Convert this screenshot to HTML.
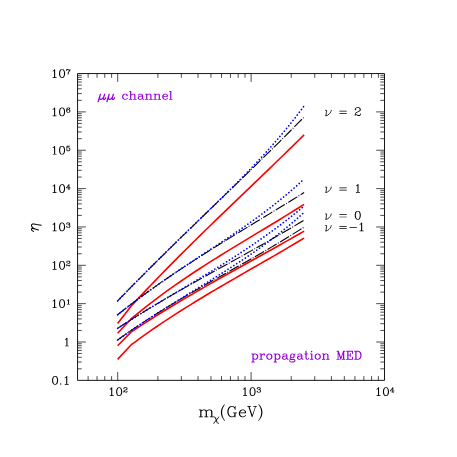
<!DOCTYPE html>
<html><head><meta charset="utf-8"><title>plot</title>
<style>html,body{margin:0;padding:0;background:#fff;}body{width:457px;height:457px;overflow:hidden;}svg{display:block;}body{font-family:"Liberation Serif",serif;}</style>
</head><body>
<svg width="457" height="457" viewBox="0 0 457 457">
<rect x="0" y="0" width="457" height="457" fill="#fff"/>
<path d="M117.60 323.40 L131.00 306.22 L135.95 300.90 L140.89 295.63 L145.84 290.40 L150.78 285.22 L155.73 280.08 L160.67 274.98 L165.62 269.92 L170.57 264.89 L175.51 259.90 L180.46 254.93 L185.40 250.00 L190.35 245.10 L195.29 240.22 L200.24 235.36 L205.19 230.52 L210.13 225.71 L215.08 220.90 L220.02 216.12 L224.97 211.34 L229.91 206.58 L234.86 201.82 L239.81 197.07 L244.75 192.32 L249.70 187.57 L254.64 182.83 L259.59 178.08 L264.53 173.32 L269.48 168.56 L274.43 163.79 L279.37 159.00 L284.32 154.21 L289.26 149.39 L294.21 144.56 L299.15 139.71 L304.10 134.84" stroke="#ff0000" stroke-width="1.6" fill="none" stroke-linejoin="round"/>
<path d="M117.60 333.20 L131.00 318.98 L135.95 314.87 L140.89 310.85 L145.84 306.92 L150.78 303.06 L155.73 299.29 L160.67 295.60 L165.62 291.97 L170.57 288.41 L175.51 284.92 L180.46 281.48 L185.40 278.10 L190.35 274.78 L195.29 271.50 L200.24 268.27 L205.19 265.08 L210.13 261.93 L215.08 258.81 L220.02 255.72 L224.97 252.66 L229.91 249.63 L234.86 246.61 L239.81 243.61 L244.75 240.62 L249.70 237.63 L254.64 234.66 L259.59 231.68 L264.53 228.70 L269.48 225.71 L274.43 222.72 L279.37 219.71 L284.32 216.68 L289.26 213.63 L294.21 210.55 L299.15 207.45 L304.10 204.31" stroke="#ff0000" stroke-width="1.6" fill="none" stroke-linejoin="round"/>
<path d="M117.60 345.70 L131.00 332.12 L135.95 328.83 L140.89 325.58 L145.84 322.38 L150.78 319.22 L155.73 316.10 L160.67 313.02 L165.62 309.97 L170.57 306.96 L175.51 303.98 L180.46 301.03 L185.40 298.10 L190.35 295.21 L195.29 292.33 L200.24 289.48 L205.19 286.65 L210.13 283.84 L215.08 281.04 L220.02 278.26 L224.97 275.49 L229.91 272.72 L234.86 269.97 L239.81 267.22 L244.75 264.48 L249.70 261.73 L254.64 258.99 L259.59 256.25 L264.53 253.50 L269.48 250.74 L274.43 247.98 L279.37 245.20 L284.32 242.42 L289.26 239.62 L294.21 236.80 L299.15 233.97 L304.10 231.11" stroke="#ff0000" stroke-width="1.6" fill="none" stroke-linejoin="round"/>
<path d="M117.60 359.40 L131.00 344.93 L135.95 341.27 L140.89 337.68 L145.84 334.15 L150.78 330.69 L155.73 327.28 L160.67 323.92 L165.62 320.62 L170.57 317.37 L175.51 314.17 L180.46 311.01 L185.40 307.89 L190.35 304.81 L195.29 301.76 L200.24 298.75 L205.19 295.77 L210.13 292.81 L215.08 289.88 L220.02 286.97 L224.97 284.08 L229.91 281.20 L234.86 278.34 L239.81 275.49 L244.75 272.65 L249.70 269.81 L254.64 266.97 L259.59 264.13 L264.53 261.29 L269.48 258.44 L274.43 255.58 L279.37 252.71 L284.32 249.82 L289.26 246.92 L294.21 243.99 L299.15 241.04 L304.10 238.07" stroke="#ff0000" stroke-width="1.6" fill="none" stroke-linejoin="round"/>
<path d="M117.60 300.90 L122.38 295.98 L127.16 291.08 L131.95 286.21 L136.73 281.37 L141.51 276.56 L146.29 271.76 L151.07 266.99 L155.86 262.24 L160.64 257.51 L165.42 252.79 L170.20 248.09 L174.98 243.41 L179.77 238.73 L184.55 234.07 L189.33 229.42 L194.11 224.78 L198.89 220.15 L203.68 215.52 L208.46 210.89 L213.24 206.27 L218.02 201.65 L222.81 197.03 L227.59 192.41 L232.37 187.78 L237.15 183.15 L241.93 178.52 L246.72 173.87 L251.50 169.22 L256.28 164.56 L261.06 159.88 L265.84 155.20 L270.63 150.49 L275.41 145.77 L280.19 141.04 L284.97 136.28 L289.75 131.50 L294.54 126.70 L299.32 121.88 L304.10 117.03" stroke="#000" stroke-width="1.1" fill="none" stroke-dasharray="10.6 1.5 0.9 1.6"/>
<path d="M117.60 314.72 L122.38 310.97 L127.16 307.27 L131.95 303.63 L136.73 300.03 L141.51 296.50 L146.29 293.01 L151.07 289.56 L155.86 286.17 L160.64 282.82 L165.42 279.50 L170.20 276.23 L174.98 273.00 L179.77 269.80 L184.55 266.63 L189.33 263.50 L194.11 260.39 L198.89 257.32 L203.68 254.27 L208.46 251.24 L213.24 248.23 L218.02 245.25 L222.81 242.28 L227.59 239.32 L232.37 236.39 L237.15 233.46 L241.93 230.54 L246.72 227.63 L251.50 224.72 L256.28 221.82 L261.06 218.92 L265.84 216.02 L270.63 213.12 L275.41 210.21 L280.19 207.30 L284.97 204.38 L289.75 201.45 L294.54 198.50 L299.32 195.55 L304.10 192.57" stroke="#000" stroke-width="1.1" fill="none" stroke-dasharray="10.6 1.5 0.9 1.6"/>
<path d="M117.60 328.34 L122.38 325.23 L127.16 322.16 L131.95 319.13 L136.73 316.14 L141.51 313.19 L146.29 310.27 L151.07 307.38 L155.86 304.52 L160.64 301.69 L165.42 298.89 L170.20 296.11 L174.98 293.35 L179.77 290.61 L184.55 287.89 L189.33 285.19 L194.11 282.50 L198.89 279.82 L203.68 277.16 L208.46 274.50 L213.24 271.85 L218.02 269.20 L222.81 266.56 L227.59 263.92 L232.37 261.27 L237.15 258.62 L241.93 255.97 L246.72 253.31 L251.50 250.64 L256.28 247.96 L261.06 245.26 L265.84 242.55 L270.63 239.83 L275.41 237.08 L280.19 234.31 L284.97 231.52 L289.75 228.70 L294.54 225.86 L299.32 222.99 L304.10 220.09" stroke="#000" stroke-width="1.1" fill="none" stroke-dasharray="10.6 1.5 0.9 1.6"/>
<path d="M117.60 339.99 L122.38 336.57 L127.16 333.21 L131.95 329.91 L136.73 326.67 L141.51 323.49 L146.29 320.35 L151.07 317.27 L155.86 314.23 L160.64 311.24 L165.42 308.28 L170.20 305.37 L174.98 302.49 L179.77 299.64 L184.55 296.82 L189.33 294.02 L194.11 291.25 L198.89 288.50 L203.68 285.76 L208.46 283.04 L213.24 280.33 L218.02 277.63 L222.81 274.93 L227.59 272.24 L232.37 269.54 L237.15 266.85 L241.93 264.14 L246.72 261.43 L251.50 258.70 L256.28 255.96 L261.06 253.20 L265.84 250.42 L270.63 247.61 L275.41 244.78 L280.19 241.92 L284.97 239.02 L289.75 236.09 L294.54 233.12 L299.32 230.11 L304.10 227.06" stroke="#000" stroke-width="1.1" fill="none" stroke-dasharray="10.6 1.5 0.9 1.6"/>
<path d="M117.60 301.00 L122.38 296.05 L127.16 291.13 L131.95 286.23 L136.73 281.35 L141.51 276.50 L146.29 271.68 L151.07 266.89 L155.86 262.12 L160.64 257.37 L165.42 252.65 L170.20 247.95 L174.98 243.27 L179.77 238.61 L184.55 233.97 L189.33 229.33 L194.11 224.71 L198.89 220.08 L203.68 215.46 L208.46 210.83 L213.24 206.19 L218.02 201.53 L222.81 196.85 L227.59 192.14 L232.37 187.40 L237.15 182.61 L241.93 177.77 L246.72 172.87 L251.50 167.90 L256.28 162.85 L261.06 157.72 L265.84 152.49 L270.63 147.16 L275.41 141.70 L280.19 136.12 L284.97 130.40 L289.75 124.53 L294.54 118.50 L299.32 112.29 L304.10 105.89" stroke="#0000ff" stroke-width="1.7" fill="none" stroke-linecap="round" stroke-dasharray="0.1 3.35"/>
<path d="M117.60 314.79 L122.38 311.00 L127.16 307.27 L131.95 303.61 L136.73 300.00 L141.51 296.45 L146.29 292.96 L151.07 289.51 L155.86 286.11 L160.64 282.75 L165.42 279.44 L170.20 276.16 L174.98 272.91 L179.77 269.69 L184.55 266.49 L189.33 263.32 L194.11 260.16 L198.89 257.01 L203.68 253.87 L208.46 250.73 L213.24 247.59 L218.02 244.44 L222.81 241.27 L227.59 238.08 L232.37 234.86 L237.15 231.62 L241.93 228.33 L246.72 225.00 L251.50 221.62 L256.28 218.17 L261.06 214.67 L265.84 211.09 L270.63 207.43 L275.41 203.69 L280.19 199.85 L284.97 195.90 L289.75 191.85 L294.54 187.68 L299.32 183.38 L304.10 178.95" stroke="#0000ff" stroke-width="1.7" fill="none" stroke-linecap="round" stroke-dasharray="0.1 3.35"/>
<path d="M117.60 328.34 L122.38 325.25 L127.16 322.20 L131.95 319.19 L136.73 316.21 L141.51 313.25 L146.29 310.32 L151.07 307.42 L155.86 304.53 L160.64 301.66 L165.42 298.80 L170.20 295.95 L174.98 293.10 L179.77 290.26 L184.55 287.41 L189.33 284.56 L194.11 281.70 L198.89 278.83 L203.68 275.95 L208.46 273.05 L213.24 270.13 L218.02 267.18 L222.81 264.20 L227.59 261.19 L232.37 258.15 L237.15 255.07 L241.93 251.95 L246.72 248.79 L251.50 245.57 L256.28 242.31 L261.06 238.98 L265.84 235.60 L270.63 232.16 L275.41 228.66 L280.19 225.08 L284.97 221.43 L289.75 217.71 L294.54 213.91 L299.32 210.03 L304.10 206.06" stroke="#0000ff" stroke-width="1.7" fill="none" stroke-linecap="round" stroke-dasharray="0.1 3.35"/>
<path d="M117.60 339.98 L122.38 336.60 L127.16 333.27 L131.95 329.99 L136.73 326.75 L141.51 323.56 L146.29 320.41 L151.07 317.30 L155.86 314.22 L160.64 311.17 L165.42 308.15 L170.20 305.16 L174.98 302.18 L179.77 299.22 L184.55 296.28 L189.33 293.34 L194.11 290.40 L198.89 287.47 L203.68 284.53 L208.46 281.58 L213.24 278.62 L218.02 275.64 L222.81 272.63 L227.59 269.60 L232.37 266.53 L237.15 263.42 L241.93 260.27 L246.72 257.06 L251.50 253.80 L256.28 250.47 L261.06 247.08 L265.84 243.61 L270.63 240.06 L275.41 236.42 L280.19 232.68 L284.97 228.85 L289.75 224.91 L294.54 220.85 L299.32 216.67 L304.10 212.36" stroke="#0000ff" stroke-width="1.7" fill="none" stroke-linecap="round" stroke-dasharray="0.1 3.35"/>
<g stroke="#111" fill="none">
<rect x="77.55" y="73.55" width="306.95" height="306.80" stroke-width="0.98" stroke-linejoin="round"/>
<path d="M88.11 380.35v-4.20M88.11 73.55v4.20M97.04 380.35v-4.20M97.04 73.55v4.20M104.78 380.35v-4.20M104.78 73.55v4.20M111.60 380.35v-4.20M111.60 73.55v4.20M117.71 380.35v-8.30M117.71 73.55v8.30M157.86 380.35v-4.20M157.86 73.55v4.20M181.35 380.35v-4.20M181.35 73.55v4.20M198.02 380.35v-4.20M198.02 73.55v4.20M210.95 380.35v-4.20M210.95 73.55v4.20M221.51 380.35v-4.20M221.51 73.55v4.20M230.44 380.35v-4.20M230.44 73.55v4.20M238.18 380.35v-4.20M238.18 73.55v4.20M245.00 380.35v-4.20M245.00 73.55v4.20M251.10 380.35v-8.30M251.10 73.55v8.30M291.26 380.35v-4.20M291.26 73.55v4.20M314.75 380.35v-4.20M314.75 73.55v4.20M331.42 380.35v-4.20M331.42 73.55v4.20M344.34 380.35v-4.20M344.34 73.55v4.20M354.91 380.35v-4.20M354.91 73.55v4.20M363.84 380.35v-4.20M363.84 73.55v4.20M371.57 380.35v-4.20M371.57 73.55v4.20M378.40 380.35v-4.20M378.40 73.55v4.20M77.55 368.81h4.20M384.50 368.81h-4.20M77.55 362.05h4.20M384.50 362.05h-4.20M77.55 357.26h4.20M384.50 357.26h-4.20M77.55 353.54h4.20M384.50 353.54h-4.20M77.55 350.51h4.20M384.50 350.51h-4.20M77.55 347.94h4.20M384.50 347.94h-4.20M77.55 345.72h4.20M384.50 345.72h-4.20M77.55 343.75h4.20M384.50 343.75h-4.20M77.55 342.00h8.30M384.50 342.00h-8.30M77.55 330.46h4.20M384.50 330.46h-4.20M77.55 323.70h4.20M384.50 323.70h-4.20M77.55 318.91h4.20M384.50 318.91h-4.20M77.55 315.19h4.20M384.50 315.19h-4.20M77.55 312.16h4.20M384.50 312.16h-4.20M77.55 309.59h4.20M384.50 309.59h-4.20M77.55 307.37h4.20M384.50 307.37h-4.20M77.55 305.40h4.20M384.50 305.40h-4.20M77.55 303.65h8.30M384.50 303.65h-8.30M77.55 292.11h4.20M384.50 292.11h-4.20M77.55 285.35h4.20M384.50 285.35h-4.20M77.55 280.56h4.20M384.50 280.56h-4.20M77.55 276.84h4.20M384.50 276.84h-4.20M77.55 273.81h4.20M384.50 273.81h-4.20M77.55 271.24h4.20M384.50 271.24h-4.20M77.55 269.02h4.20M384.50 269.02h-4.20M77.55 267.05h4.20M384.50 267.05h-4.20M77.55 265.30h8.30M384.50 265.30h-8.30M77.55 253.76h4.20M384.50 253.76h-4.20M77.55 247.00h4.20M384.50 247.00h-4.20M77.55 242.21h4.20M384.50 242.21h-4.20M77.55 238.49h4.20M384.50 238.49h-4.20M77.55 235.46h4.20M384.50 235.46h-4.20M77.55 232.89h4.20M384.50 232.89h-4.20M77.55 230.67h4.20M384.50 230.67h-4.20M77.55 228.70h4.20M384.50 228.70h-4.20M77.55 226.95h8.30M384.50 226.95h-8.30M77.55 215.41h4.20M384.50 215.41h-4.20M77.55 208.65h4.20M384.50 208.65h-4.20M77.55 203.86h4.20M384.50 203.86h-4.20M77.55 200.14h4.20M384.50 200.14h-4.20M77.55 197.11h4.20M384.50 197.11h-4.20M77.55 194.54h4.20M384.50 194.54h-4.20M77.55 192.32h4.20M384.50 192.32h-4.20M77.55 190.35h4.20M384.50 190.35h-4.20M77.55 188.60h8.30M384.50 188.60h-8.30M77.55 177.06h4.20M384.50 177.06h-4.20M77.55 170.30h4.20M384.50 170.30h-4.20M77.55 165.51h4.20M384.50 165.51h-4.20M77.55 161.79h4.20M384.50 161.79h-4.20M77.55 158.76h4.20M384.50 158.76h-4.20M77.55 156.19h4.20M384.50 156.19h-4.20M77.55 153.97h4.20M384.50 153.97h-4.20M77.55 152.00h4.20M384.50 152.00h-4.20M77.55 150.25h8.30M384.50 150.25h-8.30M77.55 138.71h4.20M384.50 138.71h-4.20M77.55 131.95h4.20M384.50 131.95h-4.20M77.55 127.16h4.20M384.50 127.16h-4.20M77.55 123.44h4.20M384.50 123.44h-4.20M77.55 120.41h4.20M384.50 120.41h-4.20M77.55 117.84h4.20M384.50 117.84h-4.20M77.55 115.62h4.20M384.50 115.62h-4.20M77.55 113.65h4.20M384.50 113.65h-4.20M77.55 111.90h8.30M384.50 111.90h-8.30M77.55 100.36h4.20M384.50 100.36h-4.20M77.55 93.60h4.20M384.50 93.60h-4.20M77.55 88.81h4.20M384.50 88.81h-4.20M77.55 85.09h4.20M384.50 85.09h-4.20M77.55 82.06h4.20M384.50 82.06h-4.20M77.55 79.49h4.20M384.50 79.49h-4.20M77.55 77.27h4.20M384.50 77.27h-4.20M77.55 75.30h4.20M384.50 75.30h-4.20" stroke-width="0.75"/>
</g>
<path transform="translate(50.60 307.65) scale(0.382)" fill="#000" d="M11.2 -21.9L10.5 -21.8L7.4 -18.7L5.7 -17.9L5.1 -17.2L5.2 -16.5L5.8 -16.1L6.2 -16.1L8.3 -17.1L9.1 -17.8L9.1 -0.9L5.8 -0.9L5.5 -0.8L5.1 -0.2L5.1 0.2L5.8 0.9L15.2 0.9L15.9 0.2L15.8 -0.5L15.2 -0.9L11.9 -0.9L11.9 -21.2ZM29 -21.9L25.5 -20.8L23.2 -17.5L22.1 -12.3L22.1 -8.7L23.1 -3.8L25.2 -0.6L25.8 -0.1L28.7 0.9L31.3 0.9L34.5 -0.2L36.9 -3.8L37.9 -8.7L37.9 -12.3L36.9 -17.2L34.8 -20.4L34.2 -20.9L31.3 -21.9ZM29.2 -20.1L30.9 -20.1L32.4 -19.3L33.3 -18.4L34.2 -16.6L35.1 -11.9L35.1 -9.1L34.1 -4.2L33.3 -2.6L32.4 -1.7L30.8 -0.9L29.1 -0.9L27.6 -1.7L26.7 -2.6L25.8 -4.4L24.9 -9.1L24.9 -11.9L25.9 -16.8L26.7 -18.4L27.6 -19.3Z"/>
<path transform="translate(65.80 304.25) scale(0.25 0.225)" fill="#000" d="M11.3 -22.4L10.7 -22.4L10 -22L7.2 -19.2L5.2 -18.2L4.8 -17.8L4.6 -17.3L4.6 -16.7L4.8 -16.2L5.2 -15.8L5.7 -15.6L6.7 -15.8L8.4 -16.7L8.6 -16.6L8.6 -1.4L5.7 -1.4L5.2 -1.2L4.7 -0.5L4.6 0.3L4.8 0.8L5.2 1.2L5.7 1.4L15.3 1.4L15.8 1.2L16.2 0.8L16.4 0.3L16.4 -0.3L16.2 -0.8L15.5 -1.3L12.4 -1.4L12.4 -21.3L12.2 -21.8L11.8 -22.2Z"/>
<path transform="translate(50.60 269.30) scale(0.382)" fill="#000" d="M11.2 -21.9L10.5 -21.8L7.4 -18.7L5.7 -17.9L5.1 -17.2L5.2 -16.5L5.8 -16.1L6.2 -16.1L8.3 -17.1L9.1 -17.8L9.1 -0.9L5.8 -0.9L5.5 -0.8L5.1 -0.2L5.1 0.2L5.8 0.9L15.2 0.9L15.9 0.2L15.8 -0.5L15.2 -0.9L11.9 -0.9L11.9 -21.2ZM29 -21.9L25.5 -20.8L23.2 -17.5L22.1 -12.3L22.1 -8.7L23.1 -3.8L25.2 -0.6L25.8 -0.1L28.7 0.9L31.3 0.9L34.5 -0.2L36.9 -3.8L37.9 -8.7L37.9 -12.3L36.9 -17.2L34.8 -20.4L34.2 -20.9L31.3 -21.9ZM29.2 -20.1L30.9 -20.1L32.4 -19.3L33.3 -18.4L34.2 -16.6L35.1 -11.9L35.1 -9.1L34.1 -4.2L33.3 -2.6L32.4 -1.7L30.8 -0.9L29.1 -0.9L27.6 -1.7L26.7 -2.6L25.8 -4.4L24.9 -9.1L24.9 -11.9L25.9 -16.8L26.7 -18.4L27.6 -19.3Z"/>
<path transform="translate(65.80 265.90) scale(0.25 0.225)" fill="#000" d="M4.6 -21.4L4 -21L2.8 -19.8L1.6 -17.3L1.7 -15.5L2 -15L3.2 -13.8L3.7 -13.6L4.3 -13.6L4.8 -13.8L6 -15L6.3 -15.5L6.3 -16.5L6 -17L5.1 -17.8L5.2 -18.2L5.9 -18.9L8.2 -19.6L11.7 -19.6L13.2 -18.8L13.9 -18.1L14.6 -16.7L14.6 -15.3L13.8 -13.8L11.1 -12.1L5.4 -9.3L3 -7L2.6 -6.4L1.6 -3.3L1.7 0.5L2.5 1.3L3.3 1.4L3.8 1.2L4.2 0.8L4.4 0.3L4.4 -1.5L4.6 -1.6L5.6 -1.6L10.7 1.4L15.5 1.3L16 1L17.2 -0.2L18.4 -2.6L18.4 -5.3L18.2 -5.8L17.8 -6.2L17.3 -6.4L16.7 -6.4L16.2 -6.2L15.8 -5.8L15.6 -5.3L15.6 -3.5L15.1 -3.1L13.7 -2.4L11.2 -2.4L6.6 -4.3L5 -4.4L4.9 -4.5L5.2 -5.3L6.9 -6.9L8.9 -7.9L13.4 -9.6L16.7 -11.8L17.2 -12.2L18.4 -14.7L18.4 -17.3L17.2 -19.8L16 -21L15.4 -21.4L12.4 -22.4L7.7 -22.4Z"/>
<path transform="translate(50.60 230.95) scale(0.382)" fill="#000" d="M11.2 -21.9L10.5 -21.8L7.4 -18.7L5.7 -17.9L5.1 -17.2L5.2 -16.5L5.8 -16.1L6.2 -16.1L8.3 -17.1L9.1 -17.8L9.1 -0.9L5.8 -0.9L5.5 -0.8L5.1 -0.2L5.1 0.2L5.8 0.9L15.2 0.9L15.9 0.2L15.8 -0.5L15.2 -0.9L11.9 -0.9L11.9 -21.2ZM29 -21.9L25.5 -20.8L23.2 -17.5L22.1 -12.3L22.1 -8.7L23.1 -3.8L25.2 -0.6L25.8 -0.1L28.7 0.9L31.3 0.9L34.5 -0.2L36.9 -3.8L37.9 -8.7L37.9 -12.3L36.9 -17.2L34.8 -20.4L34.2 -20.9L31.3 -21.9ZM29.2 -20.1L30.9 -20.1L32.4 -19.3L33.3 -18.4L34.2 -16.6L35.1 -11.9L35.1 -9.1L34.1 -4.2L33.3 -2.6L32.4 -1.7L30.8 -0.9L29.1 -0.9L27.6 -1.7L26.7 -2.6L25.8 -4.4L24.9 -9.1L24.9 -11.9L25.9 -16.8L26.7 -18.4L27.6 -19.3Z"/>
<path transform="translate(65.80 227.55) scale(0.25 0.225)" fill="#000" d="M7.7 -22.4L4.2 -21.2L3 -20L1.6 -17.3L1.7 -15.5L2 -15L3.2 -13.8L3.7 -13.6L4.3 -13.6L5 -14L6 -15L6.4 -15.7L6.4 -16.3L6.2 -16.8L5.1 -17.9L5.7 -18.8L8.2 -19.6L11.7 -19.6L12.8 -19.1L13.6 -17.7L13.6 -15.3L13.1 -14.2L11.7 -13.4L8.5 -13.3L7.8 -12.8L7.6 -12.3L7.6 -11.7L7.8 -11.2L8.5 -10.7L11.7 -10.6L13.1 -9.9L13.8 -9.3L14.6 -6.8L14.6 -4.3L13.8 -2.8L13.1 -2.1L11.7 -1.4L8 -1.4L5.9 -2.1L5.2 -2.8L5.1 -3.2L6 -4L6.3 -4.5L6.4 -5.3L6 -6L5 -7L4.3 -7.4L3.7 -7.4L3 -7L1.8 -5.8L1.6 -5.3L1.6 -3.7L2.8 -1.2L4 0L4.6 0.4L7.7 1.4L12.4 1.4L15.4 0.4L16 0L17.2 -1.2L18.4 -3.7L18.4 -7.3L17.2 -9.8L15.4 -11.6L16.2 -12.2L17.4 -14.7L17.4 -18.3L16.2 -20.8L15.4 -21.4L12.4 -22.4Z"/>
<path transform="translate(50.60 192.60) scale(0.382)" fill="#000" d="M11.2 -21.9L10.5 -21.8L7.4 -18.7L5.7 -17.9L5.1 -17.2L5.2 -16.5L5.8 -16.1L6.2 -16.1L8.3 -17.1L9.1 -17.8L9.1 -0.9L5.8 -0.9L5.5 -0.8L5.1 -0.2L5.1 0.2L5.8 0.9L15.2 0.9L15.9 0.2L15.8 -0.5L15.2 -0.9L11.9 -0.9L11.9 -21.2ZM29 -21.9L25.5 -20.8L23.2 -17.5L22.1 -12.3L22.1 -8.7L23.1 -3.8L25.2 -0.6L25.8 -0.1L28.7 0.9L31.3 0.9L34.5 -0.2L36.9 -3.8L37.9 -8.7L37.9 -12.3L36.9 -17.2L34.8 -20.4L34.2 -20.9L31.3 -21.9ZM29.2 -20.1L30.9 -20.1L32.4 -19.3L33.3 -18.4L34.2 -16.6L35.1 -11.9L35.1 -9.1L34.1 -4.2L33.3 -2.6L32.4 -1.7L30.8 -0.9L29.1 -0.9L27.6 -1.7L26.7 -2.6L25.8 -4.4L24.9 -9.1L24.9 -11.9L25.9 -16.8L26.7 -18.4L27.6 -19.3Z"/>
<path transform="translate(65.80 189.20) scale(0.25 0.225)" fill="#000" d="M13.4 -22.4L12.6 -22.4L11.9 -21.9L0.9 -6.9L0.6 -6.3L0.6 -5.7L0.8 -5.2L1.2 -4.8L1.7 -4.6L10.6 -4.6L10.6 -1.4L8.5 -1.3L7.8 -0.8L7.6 -0.3L7.6 0.3L7.8 0.8L8.2 1.2L8.7 1.4L16.3 1.4L16.8 1.2L17.2 0.8L17.4 0.3L17.4 -0.3L17.2 -0.8L16.8 -1.2L16.3 -1.4L14.4 -1.4L14.4 -4.6L18.3 -4.6L18.8 -4.8L19.2 -5.2L19.4 -5.7L19.4 -6.3L19.2 -6.8L18.5 -7.3L14.4 -7.4L14.4 -21.4L14.1 -21.9ZM10.6 -15.3L10.6 -7.4L4.9 -7.4L4.8 -7.5Z"/>
<path transform="translate(50.60 154.25) scale(0.382)" fill="#000" d="M11.2 -21.9L10.5 -21.8L7.4 -18.7L5.7 -17.9L5.1 -17.2L5.2 -16.5L5.8 -16.1L6.2 -16.1L8.3 -17.1L9.1 -17.8L9.1 -0.9L5.8 -0.9L5.5 -0.8L5.1 -0.2L5.1 0.2L5.8 0.9L15.2 0.9L15.9 0.2L15.8 -0.5L15.2 -0.9L11.9 -0.9L11.9 -21.2ZM29 -21.9L25.5 -20.8L23.2 -17.5L22.1 -12.3L22.1 -8.7L23.1 -3.8L25.2 -0.6L25.8 -0.1L28.7 0.9L31.3 0.9L34.5 -0.2L36.9 -3.8L37.9 -8.7L37.9 -12.3L36.9 -17.2L34.8 -20.4L34.2 -20.9L31.3 -21.9ZM29.2 -20.1L30.9 -20.1L32.4 -19.3L33.3 -18.4L34.2 -16.6L35.1 -11.9L35.1 -9.1L34.1 -4.2L33.3 -2.6L32.4 -1.7L30.8 -0.9L29.1 -0.9L27.6 -1.7L26.7 -2.6L25.8 -4.4L24.9 -9.1L24.9 -11.9L25.9 -16.8L26.7 -18.4L27.6 -19.3Z"/>
<path transform="translate(65.80 150.85) scale(0.25 0.225)" fill="#000" d="M4.6 -22.4L4.1 -22.1L3.6 -21.4L1.6 -11.4L1.6 -10.6L1.8 -10.2L2.6 -9.6L3.4 -9.6L3.9 -9.9L5.9 -11.9L8.2 -12.6L10.7 -12.6L12.2 -11.8L13.8 -10.3L14.6 -7.8L14.6 -6.2L13.8 -3.7L12.2 -2.2L10.7 -1.4L8.2 -1.4L5.7 -2.2L5.1 -3.1L6.2 -4.2L6.4 -4.7L6.4 -5.3L6 -6L5 -7L4.3 -7.4L3.7 -7.4L3.2 -7.2L1.8 -5.8L1.6 -5.3L1.6 -3.7L2.8 -1.2L4 0L4.6 0.4L7.4 1.3L11.4 1.4L14.4 0.4L15 0L17.2 -2.2L18.4 -5.7L18.4 -8.3L17.2 -11.8L14.8 -14.2L11.4 -15.4L7.7 -15.4L5.2 -14.5L5.1 -14.7L6 -18.6L10.4 -18.6L15.4 -19.6L16.2 -20.2L16.4 -20.6L16.4 -21.4L16.1 -21.9L15.4 -22.4Z"/>
<path transform="translate(50.60 115.90) scale(0.382)" fill="#000" d="M11.2 -21.9L10.5 -21.8L7.4 -18.7L5.7 -17.9L5.1 -17.2L5.2 -16.5L5.8 -16.1L6.2 -16.1L8.3 -17.1L9.1 -17.8L9.1 -0.9L5.8 -0.9L5.5 -0.8L5.1 -0.2L5.1 0.2L5.8 0.9L15.2 0.9L15.9 0.2L15.8 -0.5L15.2 -0.9L11.9 -0.9L11.9 -21.2ZM29 -21.9L25.5 -20.8L23.2 -17.5L22.1 -12.3L22.1 -8.7L23.1 -3.8L25.2 -0.6L25.8 -0.1L28.7 0.9L31.3 0.9L34.5 -0.2L36.9 -3.8L37.9 -8.7L37.9 -12.3L36.9 -17.2L34.8 -20.4L34.2 -20.9L31.3 -21.9ZM29.2 -20.1L30.9 -20.1L32.4 -19.3L33.3 -18.4L34.2 -16.6L35.1 -11.9L35.1 -9.1L34.1 -4.2L33.3 -2.6L32.4 -1.7L30.8 -0.9L29.1 -0.9L27.6 -1.7L26.7 -2.6L25.8 -4.4L24.9 -9.1L24.9 -11.9L25.9 -16.8L26.7 -18.4L27.6 -19.3Z"/>
<path transform="translate(65.80 112.50) scale(0.25 0.225)" fill="#000" d="M13.3 -22.4L9.6 -22.4L6.6 -21.4L6 -21L3.7 -18.6L2.8 -16.7L1.6 -12.4L1.6 -5.7L2.8 -2.2L5.2 0.2L8.6 1.4L11.4 1.4L14.8 0.2L17.2 -2.2L18.4 -5.7L18.4 -7.3L17.4 -10.4L17 -11L14.8 -13.2L11.4 -14.4L9.7 -14.4L6.6 -13.4L5.6 -12.7L6.2 -15.4L7.2 -17.2L8.8 -18.8L10.3 -19.6L12.7 -19.6L13.9 -18.9L12.8 -17.8L12.6 -17.3L12.6 -16.7L13 -16L14.2 -14.8L14.7 -14.6L15.5 -14.7L17 -16L17.4 -16.7L17.4 -18.3L16.3 -20.6L15.6 -21.3ZM10.6 -11.6L12.2 -10.8L13.8 -9.3L14.6 -7L14.6 -6.2L13.8 -3.7L12.2 -2.2L10.7 -1.4L9.3 -1.4L7.8 -2.2L6.2 -3.7L5.4 -6L5.4 -6.8L6.2 -9.3L7.7 -10.8L10 -11.6Z"/>
<path transform="translate(50.60 77.55) scale(0.382)" fill="#000" d="M11.2 -21.9L10.5 -21.8L7.4 -18.7L5.7 -17.9L5.1 -17.2L5.2 -16.5L5.8 -16.1L6.2 -16.1L8.3 -17.1L9.1 -17.8L9.1 -0.9L5.8 -0.9L5.5 -0.8L5.1 -0.2L5.1 0.2L5.8 0.9L15.2 0.9L15.9 0.2L15.8 -0.5L15.2 -0.9L11.9 -0.9L11.9 -21.2ZM29 -21.9L25.5 -20.8L23.2 -17.5L22.1 -12.3L22.1 -8.7L23.1 -3.8L25.2 -0.6L25.8 -0.1L28.7 0.9L31.3 0.9L34.5 -0.2L36.9 -3.8L37.9 -8.7L37.9 -12.3L36.9 -17.2L34.8 -20.4L34.2 -20.9L31.3 -21.9ZM29.2 -20.1L30.9 -20.1L32.4 -19.3L33.3 -18.4L34.2 -16.6L35.1 -11.9L35.1 -9.1L34.1 -4.2L33.3 -2.6L32.4 -1.7L30.8 -0.9L29.1 -0.9L27.6 -1.7L26.7 -2.6L25.8 -4.4L24.9 -9.1L24.9 -11.9L25.9 -16.8L26.7 -18.4L27.6 -19.3Z"/>
<path transform="translate(65.80 74.15) scale(0.25 0.225)" fill="#000" d="M2.7 -22.4L2.2 -22.2L1.8 -21.8L1.6 -21.3L1.6 -14.7L1.8 -14.2L2.5 -13.7L3.3 -13.6L3.8 -13.8L4.2 -14.2L4.4 -14.7L4.4 -16.7L4.9 -17.8L6.3 -18.6L7.7 -18.6L12.6 -16.6L15.1 -16.6L14.8 -15.7L9.8 -10.8L8.8 -8.7L7.7 -5.6L7.7 0.5L8.5 1.3L10.3 1.4L10.8 1.2L11.2 0.8L11.4 0.3L11.4 -4.8L12.3 -7.6L13.2 -9.4L17.1 -14.1L18.4 -17.7L18.4 -21.4L17.8 -22.2L17.4 -22.4L16.6 -22.4L16.1 -22.1L15.8 -21.7L14.9 -19.9L14.5 -19.4L13.4 -19.4L8.3 -22.4L5.7 -22.4L5 -22L4.4 -21.4L3.8 -22.2L3.3 -22.4Z"/>
<path transform="translate(62.90 346.00) scale(0.382)" fill="#000" d="M11.2 -21.9L10.5 -21.8L7.4 -18.7L5.7 -17.9L5.1 -17.2L5.2 -16.5L5.8 -16.1L6.2 -16.1L8.3 -17.1L9.1 -17.8L9.1 -0.9L5.8 -0.9L5.5 -0.8L5.1 -0.2L5.1 0.2L5.8 0.9L15.2 0.9L15.9 0.2L15.8 -0.5L15.2 -0.9L11.9 -0.9L11.9 -21.2Z"/>
<path transform="translate(51.25 384.35) scale(0.382)" fill="#000" d="M24.8 -2.9L23.2 -1.5L23.1 -0.8L24.5 0.8L25.2 0.9L26.8 -0.5L26.9 -1.2L25.5 -2.8ZM41.2 -21.9L40.5 -21.8L37.4 -18.7L35.7 -17.9L35.1 -17.2L35.2 -16.5L35.8 -16.1L36.2 -16.1L38.3 -17.1L39.1 -17.8L39.1 -0.9L35.8 -0.9L35.5 -0.8L35.1 -0.2L35.1 0.2L35.8 0.9L45.2 0.9L45.9 0.2L45.8 -0.5L45.2 -0.9L41.9 -0.9L41.9 -21.2ZM9 -21.9L5.5 -20.8L3.2 -17.5L2.1 -12.3L2.1 -8.7L3.1 -3.8L5.2 -0.6L5.8 -0.1L8.7 0.9L11.3 0.9L14.5 -0.2L16.9 -3.8L17.9 -8.7L17.9 -12.3L16.9 -17.2L14.8 -20.4L14.2 -20.9L11.3 -21.9ZM9.2 -20.1L10.9 -20.1L12.4 -19.3L13.3 -18.4L14.2 -16.6L15.1 -11.9L15.1 -9.1L14.1 -4.2L13.3 -2.6L12.4 -1.7L10.8 -0.9L9.1 -0.9L7.6 -1.7L6.7 -2.6L5.8 -4.4L4.9 -9.1L4.9 -11.9L5.9 -16.8L6.7 -18.4L7.6 -19.3Z"/>
<path transform="translate(107.71 395.70) scale(0.382)" fill="#000" d="M11.2 -21.9L10.5 -21.8L7.4 -18.7L5.7 -17.9L5.1 -17.2L5.2 -16.5L5.8 -16.1L6.2 -16.1L8.3 -17.1L9.1 -17.8L9.1 -0.9L5.8 -0.9L5.5 -0.8L5.1 -0.2L5.1 0.2L5.8 0.9L15.2 0.9L15.9 0.2L15.8 -0.5L15.2 -0.9L11.9 -0.9L11.9 -21.2ZM29 -21.9L25.5 -20.8L23.2 -17.5L22.1 -12.3L22.1 -8.7L23.1 -3.8L25.2 -0.6L25.8 -0.1L28.7 0.9L31.3 0.9L34.5 -0.2L36.9 -3.8L37.9 -8.7L37.9 -12.3L36.9 -17.2L34.8 -20.4L34.2 -20.9L31.3 -21.9ZM29.2 -20.1L30.9 -20.1L32.4 -19.3L33.3 -18.4L34.2 -16.6L35.1 -11.9L35.1 -9.1L34.1 -4.2L33.3 -2.6L32.4 -1.7L30.8 -0.9L29.1 -0.9L27.6 -1.7L26.7 -2.6L25.8 -4.4L24.9 -9.1L24.9 -11.9L25.9 -16.8L26.7 -18.4L27.6 -19.3Z"/>
<path transform="translate(122.91 392.30) scale(0.25 0.225)" fill="#000" d="M4.6 -21.4L4 -21L2.8 -19.8L1.6 -17.3L1.7 -15.5L2 -15L3.2 -13.8L3.7 -13.6L4.3 -13.6L4.8 -13.8L6 -15L6.3 -15.5L6.3 -16.5L6 -17L5.1 -17.8L5.2 -18.2L5.9 -18.9L8.2 -19.6L11.7 -19.6L13.2 -18.8L13.9 -18.1L14.6 -16.7L14.6 -15.3L13.8 -13.8L11.1 -12.1L5.4 -9.3L3 -7L2.6 -6.4L1.6 -3.3L1.7 0.5L2.5 1.3L3.3 1.4L3.8 1.2L4.2 0.8L4.4 0.3L4.4 -1.5L4.6 -1.6L5.6 -1.6L10.7 1.4L15.5 1.3L16 1L17.2 -0.2L18.4 -2.6L18.4 -5.3L18.2 -5.8L17.8 -6.2L17.3 -6.4L16.7 -6.4L16.2 -6.2L15.8 -5.8L15.6 -5.3L15.6 -3.5L15.1 -3.1L13.7 -2.4L11.2 -2.4L6.6 -4.3L5 -4.4L4.9 -4.5L5.2 -5.3L6.9 -6.9L8.9 -7.9L13.4 -9.6L16.7 -11.8L17.2 -12.2L18.4 -14.7L18.4 -17.3L17.2 -19.8L16 -21L15.4 -21.4L12.4 -22.4L7.7 -22.4Z"/>
<path transform="translate(241.10 395.70) scale(0.382)" fill="#000" d="M11.2 -21.9L10.5 -21.8L7.4 -18.7L5.7 -17.9L5.1 -17.2L5.2 -16.5L5.8 -16.1L6.2 -16.1L8.3 -17.1L9.1 -17.8L9.1 -0.9L5.8 -0.9L5.5 -0.8L5.1 -0.2L5.1 0.2L5.8 0.9L15.2 0.9L15.9 0.2L15.8 -0.5L15.2 -0.9L11.9 -0.9L11.9 -21.2ZM29 -21.9L25.5 -20.8L23.2 -17.5L22.1 -12.3L22.1 -8.7L23.1 -3.8L25.2 -0.6L25.8 -0.1L28.7 0.9L31.3 0.9L34.5 -0.2L36.9 -3.8L37.9 -8.7L37.9 -12.3L36.9 -17.2L34.8 -20.4L34.2 -20.9L31.3 -21.9ZM29.2 -20.1L30.9 -20.1L32.4 -19.3L33.3 -18.4L34.2 -16.6L35.1 -11.9L35.1 -9.1L34.1 -4.2L33.3 -2.6L32.4 -1.7L30.8 -0.9L29.1 -0.9L27.6 -1.7L26.7 -2.6L25.8 -4.4L24.9 -9.1L24.9 -11.9L25.9 -16.8L26.7 -18.4L27.6 -19.3Z"/>
<path transform="translate(256.30 392.30) scale(0.25 0.225)" fill="#000" d="M7.7 -22.4L4.2 -21.2L3 -20L1.6 -17.3L1.7 -15.5L2 -15L3.2 -13.8L3.7 -13.6L4.3 -13.6L5 -14L6 -15L6.4 -15.7L6.4 -16.3L6.2 -16.8L5.1 -17.9L5.7 -18.8L8.2 -19.6L11.7 -19.6L12.8 -19.1L13.6 -17.7L13.6 -15.3L13.1 -14.2L11.7 -13.4L8.5 -13.3L7.8 -12.8L7.6 -12.3L7.6 -11.7L7.8 -11.2L8.5 -10.7L11.7 -10.6L13.1 -9.9L13.8 -9.3L14.6 -6.8L14.6 -4.3L13.8 -2.8L13.1 -2.1L11.7 -1.4L8 -1.4L5.9 -2.1L5.2 -2.8L5.1 -3.2L6 -4L6.3 -4.5L6.4 -5.3L6 -6L5 -7L4.3 -7.4L3.7 -7.4L3 -7L1.8 -5.8L1.6 -5.3L1.6 -3.7L2.8 -1.2L4 0L4.6 0.4L7.7 1.4L12.4 1.4L15.4 0.4L16 0L17.2 -1.2L18.4 -3.7L18.4 -7.3L17.2 -9.8L15.4 -11.6L16.2 -12.2L17.4 -14.7L17.4 -18.3L16.2 -20.8L15.4 -21.4L12.4 -22.4Z"/>
<path transform="translate(374.50 395.70) scale(0.382)" fill="#000" d="M11.2 -21.9L10.5 -21.8L7.4 -18.7L5.7 -17.9L5.1 -17.2L5.2 -16.5L5.8 -16.1L6.2 -16.1L8.3 -17.1L9.1 -17.8L9.1 -0.9L5.8 -0.9L5.5 -0.8L5.1 -0.2L5.1 0.2L5.8 0.9L15.2 0.9L15.9 0.2L15.8 -0.5L15.2 -0.9L11.9 -0.9L11.9 -21.2ZM29 -21.9L25.5 -20.8L23.2 -17.5L22.1 -12.3L22.1 -8.7L23.1 -3.8L25.2 -0.6L25.8 -0.1L28.7 0.9L31.3 0.9L34.5 -0.2L36.9 -3.8L37.9 -8.7L37.9 -12.3L36.9 -17.2L34.8 -20.4L34.2 -20.9L31.3 -21.9ZM29.2 -20.1L30.9 -20.1L32.4 -19.3L33.3 -18.4L34.2 -16.6L35.1 -11.9L35.1 -9.1L34.1 -4.2L33.3 -2.6L32.4 -1.7L30.8 -0.9L29.1 -0.9L27.6 -1.7L26.7 -2.6L25.8 -4.4L24.9 -9.1L24.9 -11.9L25.9 -16.8L26.7 -18.4L27.6 -19.3Z"/>
<path transform="translate(389.70 392.30) scale(0.25 0.225)" fill="#000" d="M13.4 -22.4L12.6 -22.4L11.9 -21.9L0.9 -6.9L0.6 -6.3L0.6 -5.7L0.8 -5.2L1.2 -4.8L1.7 -4.6L10.6 -4.6L10.6 -1.4L8.5 -1.3L7.8 -0.8L7.6 -0.3L7.6 0.3L7.8 0.8L8.2 1.2L8.7 1.4L16.3 1.4L16.8 1.2L17.2 0.8L17.4 0.3L17.4 -0.3L17.2 -0.8L16.8 -1.2L16.3 -1.4L14.4 -1.4L14.4 -4.6L18.3 -4.6L18.8 -4.8L19.2 -5.2L19.4 -5.7L19.4 -6.3L19.2 -6.8L18.5 -7.3L14.4 -7.4L14.4 -21.4L14.1 -21.9ZM10.6 -15.3L10.6 -7.4L4.9 -7.4L4.8 -7.5Z"/>
<path transform="translate(324.80 115.70) scale(0.382)" fill="none" stroke="#000" stroke-width="2.09" stroke-linecap="round" stroke-linejoin="round" d="M2 -14L5 -14L3 0M17 -14L16 -11L14 -7L11 -4L7 -1L3 0"/>
<path transform="translate(338.10 115.70) scale(0.382)" fill="#000" d="M3.1 -6.2L3.2 -5.5L3.8 -5.1L22.2 -5.1L22.9 -5.8L22.8 -6.5L22.2 -6.9L3.8 -6.9ZM3.1 -12.2L3.2 -11.5L3.8 -11.1L22.2 -11.1L22.9 -11.8L22.8 -12.5L22.2 -12.9L3.8 -12.9Z"/>
<path transform="translate(353.95 115.70) scale(0.382)" fill="#000" d="M4.8 -20.9L3.2 -19.5L2.1 -17.2L2.1 -15.8L3.5 -14.2L3.8 -14.1L4.5 -14.2L5.9 -15.8L5.8 -16.5L4.4 -17.8L4.7 -18.4L5.5 -19.2L8.1 -20.1L11.8 -20.1L13.4 -19.3L14.3 -18.4L15.1 -16.9L15.1 -15.2L14.2 -13.5L11.4 -11.7L5.7 -8.9L3.2 -6.5L2.1 -3.3L2.1 0.2L2.8 0.9L3.5 0.8L3.9 0.2L3.9 -1.6L4.4 -2.1L5.8 -2.1L10.8 0.9L15.2 0.9L16.8 -0.5L17.9 -2.8L17.9 -5.2L17.2 -5.9L16.5 -5.8L16.1 -5.2L16.1 -3.4L15.4 -2.7L13.8 -1.9L11.2 -1.9L6.3 -3.9L4.3 -3.9L4.2 -4L4.8 -5.5L6.6 -7.3L9.1 -8.5L13.1 -10.1L16.4 -12.2L16.9 -12.7L17.9 -14.8L17.8 -17.4L16.8 -19.5L15.5 -20.8L12.3 -21.9L7.7 -21.9Z"/>
<path transform="translate(324.80 192.40) scale(0.382)" fill="none" stroke="#000" stroke-width="2.09" stroke-linecap="round" stroke-linejoin="round" d="M2 -14L5 -14L3 0M17 -14L16 -11L14 -7L11 -4L7 -1L3 0"/>
<path transform="translate(338.10 192.40) scale(0.382)" fill="#000" d="M3.1 -6.2L3.2 -5.5L3.8 -5.1L22.2 -5.1L22.9 -5.8L22.8 -6.5L22.2 -6.9L3.8 -6.9ZM3.1 -12.2L3.2 -11.5L3.8 -11.1L22.2 -11.1L22.9 -11.8L22.8 -12.5L22.2 -12.9L3.8 -12.9Z"/>
<path transform="translate(353.95 192.40) scale(0.382)" fill="#000" d="M11.2 -21.9L10.5 -21.8L7.4 -18.7L5.7 -17.9L5.1 -17.2L5.2 -16.5L5.8 -16.1L6.2 -16.1L8.3 -17.1L9.1 -17.8L9.1 -0.9L5.8 -0.9L5.5 -0.8L5.1 -0.2L5.1 0.2L5.8 0.9L15.2 0.9L15.9 0.2L15.8 -0.5L15.2 -0.9L11.9 -0.9L11.9 -21.2Z"/>
<path transform="translate(324.80 219.30) scale(0.382)" fill="none" stroke="#000" stroke-width="2.09" stroke-linecap="round" stroke-linejoin="round" d="M2 -14L5 -14L3 0M17 -14L16 -11L14 -7L11 -4L7 -1L3 0"/>
<path transform="translate(338.10 219.30) scale(0.382)" fill="#000" d="M3.1 -6.2L3.2 -5.5L3.8 -5.1L22.2 -5.1L22.9 -5.8L22.8 -6.5L22.2 -6.9L3.8 -6.9ZM3.1 -12.2L3.2 -11.5L3.8 -11.1L22.2 -11.1L22.9 -11.8L22.8 -12.5L22.2 -12.9L3.8 -12.9Z"/>
<path transform="translate(353.95 219.30) scale(0.382)" fill="#000" d="M9 -21.9L5.5 -20.8L3.2 -17.5L2.1 -12.3L2.1 -8.7L3.1 -3.8L5.2 -0.6L5.8 -0.1L8.7 0.9L11.3 0.9L14.5 -0.2L16.9 -3.8L17.9 -8.7L17.9 -12.3L16.9 -17.2L14.8 -20.4L14.2 -20.9L11.3 -21.9ZM9.2 -20.1L10.9 -20.1L12.4 -19.3L13.3 -18.4L14.2 -16.6L15.1 -11.9L15.1 -9.1L14.1 -4.2L13.3 -2.6L12.4 -1.7L10.8 -0.9L9.1 -0.9L7.6 -1.7L6.7 -2.6L5.8 -4.4L4.9 -9.1L4.9 -11.9L5.9 -16.8L6.7 -18.4L7.6 -19.3Z"/>
<path transform="translate(324.80 230.90) scale(0.382)" fill="none" stroke="#000" stroke-width="2.09" stroke-linecap="round" stroke-linejoin="round" d="M2 -14L5 -14L3 0M17 -14L16 -11L14 -7L11 -4L7 -1L3 0"/>
<path transform="translate(338.10 230.90) scale(0.382)" fill="#000" d="M3.1 -6.2L3.2 -5.5L3.8 -5.1L22.2 -5.1L22.9 -5.8L22.8 -6.5L22.2 -6.9L3.8 -6.9ZM3.1 -12.2L3.2 -11.5L3.8 -11.1L22.2 -11.1L22.9 -11.8L22.8 -12.5L22.2 -12.9L3.8 -12.9Z"/>
<path transform="translate(348.20 230.90) scale(0.382)" fill="#000" d="M3.1 -9.2L3.2 -8.5L3.8 -8.1L22.2 -8.1L22.9 -8.8L22.8 -9.5L22.2 -9.9L3.8 -9.9Z"/>
<path transform="translate(357.60 230.90) scale(0.382)" fill="#000" d="M11.2 -21.9L10.5 -21.8L7.4 -18.7L5.7 -17.9L5.1 -17.2L5.2 -16.5L5.8 -16.1L6.2 -16.1L8.3 -17.1L9.1 -17.8L9.1 -0.9L5.8 -0.9L5.5 -0.8L5.1 -0.2L5.1 0.2L5.8 0.9L15.2 0.9L15.9 0.2L15.8 -0.5L15.2 -0.9L11.9 -0.9L11.9 -21.2Z"/>
<path transform="translate(198.10 416.90) scale(0.497)" fill="#000" d="M1.3 -14.2L1.4 -13.6L1.8 -13.3L4.3 -13.2L4.3 -0.8L1.8 -0.7L1.6 -0.6L1.3 -0.2L1.3 0.2L1.8 0.7L9.2 0.7L9.6 0.4L9.7 -0.2L9.2 -0.7L6.7 -0.8L6.7 -10.7L8.4 -12.4L11.1 -13.3L12.8 -13.3L14.4 -12.5L15.3 -10.8L15.3 -0.8L12.8 -0.7L12.3 -0.2L12.3 0.2L12.6 0.6L12.8 0.7L20.2 0.7L20.6 0.4L20.7 -0.2L20.2 -0.7L17.7 -0.8L17.7 -10.7L19.4 -12.4L22.1 -13.3L23.8 -13.3L25.4 -12.5L26.3 -10.8L26.3 -0.8L23.8 -0.7L23.3 -0.2L23.4 0.4L23.8 0.7L31.2 0.7L31.7 0.2L31.6 -0.4L31.2 -0.7L28.7 -0.8L28.7 -11.2L27.6 -13.4L27.2 -13.7L24.2 -14.7L21.8 -14.7L18.8 -13.7L17.2 -12.2L16.6 -13.4L16.2 -13.7L13.2 -14.7L10.8 -14.7L7.8 -13.7L6.8 -12.8L6.7 -14.2L6.2 -14.7L1.8 -14.7Z"/>
<path transform="translate(213.60 421.20) scale(0.2982)" fill="none" stroke="#000" stroke-width="3.19" stroke-linecap="round" stroke-linejoin="round" d="M2 -14L4 -14L6 -12L12 5L14 7L16 7M17 -14L16 -12L2 5L1 7"/>
<path transform="translate(219.30 416.90) scale(0.497)" fill="#000" d="M45.8 -14.7L42.8 -13.7L40.4 -11.4L39.3 -8.2L39.3 -5.8L40.3 -2.8L42.6 -0.4L45.8 0.7L48.2 0.7L51.4 -0.4L53.6 -2.6L53.7 -2.8L53.6 -3.4L53.2 -3.7L52.6 -3.6L50.4 -1.5L47.9 -0.7L46.2 -0.7L44.4 -1.6L42.6 -3.4L41.7 -6.1L41.7 -7.2L53.2 -7.3L53.7 -7.8L53.7 -10.2L52.6 -12.4L51.4 -13.6L49.2 -14.7ZM42 -8.9L42.6 -10.6L44.4 -12.4L46.2 -13.3L48.8 -13.3L50.4 -12.5L51.3 -10.8L51.2 -8.7L42.1 -8.7ZM56.8 -21.7L56.3 -21.2L56.3 -20.8L56.6 -20.4L56.8 -20.3L58.4 -20.3L58.6 -20.2L65.3 0.2L65.8 0.7L66.2 0.7L66.7 0.2L73.4 -20.2L73.6 -20.3L75.2 -20.3L75.6 -20.6L75.7 -21.2L75.2 -21.7L68.8 -21.7L68.4 -21.4L68.3 -20.8L68.8 -20.3L71.9 -20.3L72 -20.1L66.5 -3.8L61 -20.1L61.1 -20.3L63.2 -20.3L63.4 -20.4L63.7 -20.8L63.6 -21.4L63.2 -21.7ZM20.8 -20.7L18.3 -18.2L17.3 -16.2L16.3 -13.2L16.3 -7.8L17.3 -4.8L18.4 -2.6L20.8 -0.3L23.8 0.7L26.2 0.7L29.2 -0.3L30.2 -1.2L30.3 0.2L30.6 0.6L30.8 0.7L31.5 0.5L31.8 0.7L32.4 0.6L32.7 0.2L32.7 -7.2L35.2 -7.3L35.7 -7.8L35.7 -8.2L35.4 -8.6L35.2 -8.7L27.8 -8.7L27.6 -8.6L27.3 -8.2L27.3 -7.8L27.8 -7.3L30.3 -7.2L30.3 -3.3L28.4 -1.5L25.9 -0.7L24.2 -0.7L22.4 -1.6L20.6 -3.4L19.6 -5.4L18.7 -8.1L18.7 -12.9L19.6 -15.6L20.6 -17.6L22.4 -19.4L24.2 -20.3L25.9 -20.3L28.6 -19.4L30.4 -17.6L31.4 -14.6L31.8 -14.3L32.4 -14.4L32.7 -14.8L32.7 -21.2L32.6 -21.4L32.2 -21.7L31.8 -21.7L31.4 -21.4L30.7 -19.3L29.2 -20.7L26.2 -21.7L23.8 -21.7ZM78.3 -25.1L78.4 -24.6L80.4 -22.6L82.4 -18.6L83.4 -15.7L84.3 -10.9L84.3 -7.1L83.4 -2.3L82.4 0.6L80.4 4.6L78.3 6.8L78.4 7.4L78.8 7.7L79.2 7.7L81.6 5.4L83.6 2.4L85.6 -1.6L86.7 -6.8L86.7 -11.2L85.6 -16.4L83.6 -20.4L81.6 -23.4L79.9 -25.1ZM10.1 -25.1L8.4 -23.4L6.4 -20.4L4.4 -16.4L3.3 -11.2L3.3 -6.8L4.4 -1.6L6.4 2.4L8.4 5.4L10.6 7.6L11.2 7.7L11.7 7.2L11.6 6.6L9.6 4.6L7.6 0.6L6.6 -2.3L5.7 -7.1L5.7 -10.9L6.6 -15.7L7.6 -18.6L9.6 -22.6L11.7 -24.8L11.7 -25.1Z"/>
<path transform="translate(38.50 231.90) rotate(-90) scale(0.497)" fill="none" stroke="#000" stroke-width="2.11" stroke-linecap="round" stroke-linejoin="round" d="M1 -10L2 -12L4 -14L6 -14L7 -13L7 -11L6 -7L4 0M6 -7L8 -11L10 -13L12 -14L14 -14L16 -12L16 -9L15 -4L13.4 5.6"/>
<path transform="translate(97.55 99.40) scale(0.382)" fill="none" stroke="#9900dd" stroke-width="3.27" stroke-linecap="round" stroke-linejoin="round" d="M7.5 -13.5L1.5 6M6.5 -10L5.5 -5L5.5 -2L7.5 0L9.5 0L11.5 -1L14 -3L16.5 -7M18.5 -13.5L16.5 -7L15.5 -3L15.5 -1L16.5 0L18.5 0L20.5 -2L21.5 -4"/>
<path transform="translate(106.30 99.40) scale(0.382)" fill="none" stroke="#9900dd" stroke-width="3.27" stroke-linecap="round" stroke-linejoin="round" d="M7.5 -13.5L1.5 6M6.5 -10L5.5 -5L5.5 -2L7.5 0L9.5 0L11.5 -1L14 -3L16.5 -7M18.5 -13.5L16.5 -7L15.5 -3L15.5 -1L16.5 0L18.5 0L20.5 -2L21.5 -4"/>
<path transform="translate(121.30 99.40) scale(0.382)" fill="#9900dd" d="M113.7 -15.1L110.3 -13.9L108.1 -11.7L106.9 -8.3L106.9 -5.7L108.1 -2.3L110.3 -0.1L113.7 1.1L116.3 1.1L119.7 -0.1L121.9 -2.3L122.1 -2.8L121.9 -3.7L121.2 -4.1L120.6 -4.1L118.2 -1.9L115.8 -1.1L114.3 -1.1L112.8 -1.9L111 -3.6L110.1 -6.2L110.1 -6.8L121.2 -6.9L121.7 -7.1L122.1 -7.8L122.1 -10.2L120.9 -12.7L119.5 -14.1L117.2 -15.1ZM110.6 -9.3L111 -10.4L112.8 -12.1L114.3 -12.9L116.9 -12.8L118.2 -12L118.9 -10.7L118.8 -9.1L110.7 -9.1ZM84.1 -14.7L83.9 -13.8L84.3 -13.1L84.8 -12.9L86.9 -12.8L86.9 -1.2L84.8 -1.1L84.3 -0.9L83.9 -0.2L83.9 0.4L84.3 0.9L84.8 1.1L92.2 1.1L92.9 0.7L93.1 -0.2L92.7 -0.9L92.2 -1.1L90.1 -1.2L90.1 -10.5L91.6 -12L94.2 -12.9L95.7 -12.9L97 -12.2L97.9 -10.7L97.9 -1.2L95.8 -1.1L95.3 -0.9L94.9 -0.2L95.1 0.7L95.8 1.1L103.2 1.1L103.9 0.7L104.1 -0.2L103.7 -0.9L103.2 -1.1L101.1 -1.2L101.1 -11.2L99.9 -13.7L99.7 -13.9L96.3 -15.1L93.7 -15.1L90.7 -14.1L90.2 -13.8L90.1 -14.5L89.3 -15.1L84.8 -15.1ZM62.1 -14.7L61.9 -13.8L62.3 -13.1L62.8 -12.9L64.9 -12.8L64.9 -1.2L62.8 -1.1L62.3 -0.9L61.9 -0.2L61.9 0.4L62.3 0.9L62.8 1.1L70.2 1.1L70.9 0.7L71.1 -0.2L70.7 -0.9L70.2 -1.1L68.1 -1.2L68.1 -10.5L69.6 -12L72.2 -12.9L73.7 -12.9L75 -12.2L75.9 -10.7L75.9 -1.2L73.8 -1.1L73.3 -0.9L72.9 -0.2L73.1 0.7L73.8 1.1L81.2 1.1L81.9 0.7L82.1 -0.2L81.7 -0.9L81.2 -1.1L79.1 -1.2L79.1 -11.2L77.9 -13.7L77.7 -13.9L74.3 -15.1L71.7 -15.1L68.7 -14.1L68.2 -13.8L68.1 -14.5L67.3 -15.1L62.8 -15.1ZM44.1 -12.7L43.9 -12.2L43.9 -10.8L44.1 -10.3L44.8 -9.9L46.2 -9.9L46.7 -10.1L47.1 -10.8L47.1 -12.2L48.3 -12.9L51.7 -12.9L53.2 -12.1L53.9 -11.5L53.9 -10.5L53.4 -10.1L47.7 -9.1L44.7 -8.1L44.1 -7.7L42.9 -5.2L42.9 -2.8L44.1 -0.3L44.3 -0.1L47.7 1.1L51.2 1.1L53.7 -0.1L54.7 -1.1L55.3 -0.1L57.5 1.1L59.2 1.1L59.9 0.7L60.1 0.2L59.9 -0.7L59.2 -1.1L58.5 -1.1L57.9 -1.8L57.2 -3.1L57.1 -10.2L56.1 -12.5L54.7 -13.9L52.2 -15.1L47.8 -15.1L45.3 -13.9ZM53.9 -7.8L53.9 -3.5L52.2 -1.9L50.8 -1.1L48.3 -1.1L46.8 -2L46.1 -3.3L46.1 -4.7L47 -6.2L48.4 -6.9ZM8.7 -15.1L5.3 -13.9L3.1 -11.7L1.9 -8.3L1.9 -5.7L3.1 -2.3L5.3 -0.1L8.7 1.1L11.3 1.1L14.7 -0.1L16.9 -2.3L17.1 -2.8L17.1 -3.4L16.4 -4.1L15.6 -4.1L13.4 -2L10.8 -1.1L9.3 -1.1L7.8 -1.9L6 -3.6L5.1 -6.2L5.1 -7.8L5.9 -10.2L7.8 -12.1L9.1 -12.8L11.7 -12.9L13.2 -12.1L13.9 -11.5L12.9 -10.4L12.9 -9.6L14.3 -8.1L15.2 -7.9L15.7 -8.1L16.9 -9.3L17.1 -9.8L17.1 -11.2L16.9 -11.7L14.7 -13.9L12.4 -15.1ZM125.8 -22.1L125.3 -21.9L124.9 -21.4L124.9 -20.8L125.1 -20.3L125.8 -19.9L127.9 -19.8L127.9 -1.2L125.6 -1.1L125.1 -0.7L124.9 0.2L125.1 0.7L125.8 1.1L133.2 1.1L133.7 0.9L134.1 0.4L134.1 -0.2L133.9 -0.7L133.2 -1.1L131.1 -1.2L131.1 -21.3L130.9 -21.7L130.3 -22.1ZM20.3 -21.9L19.9 -21.2L19.9 -20.6L20.3 -20.1L20.8 -19.9L22.9 -19.8L22.9 -1.2L20.8 -1.1L20.3 -0.9L19.9 -0.2L20.1 0.7L20.8 1.1L28.2 1.1L28.9 0.7L29.1 -0.2L28.7 -0.9L28.2 -1.1L26.1 -1.2L26.1 -10.5L27.8 -12.1L30.2 -12.9L31.7 -12.9L33 -12.2L33.9 -10.7L33.9 -1.2L31.8 -1.1L31.3 -0.9L30.9 -0.2L31.1 0.7L31.8 1.1L39.2 1.1L39.7 0.9L40.1 0.2L40.1 -0.4L39.7 -0.9L39.2 -1.1L37.1 -1.2L37.1 -11.2L35.9 -13.7L35.3 -14.1L32.3 -15.1L29.7 -15.1L26.7 -14.1L26.2 -13.8L26.1 -21.3L25.9 -21.7L25.3 -22.1L20.8 -22.1Z"/>
<path transform="translate(250.90 359.30) scale(0.384)" fill="#9900dd" d="M185.1 -14.6L184.9 -13.9L185.1 -13.4L185.4 -13.1L185.9 -12.9L187.9 -12.8L187.9 -1.2L185.9 -1.1L185.4 -0.9L185.1 -0.6L184.9 -0.1L184.9 0.4L185.4 0.9L185.9 1.1L193.1 1.1L193.6 0.9L193.9 0.6L194.1 -0.1L193.9 -0.6L193.6 -0.9L193.1 -1.1L191.1 -1.2L191.1 -10.5L192.6 -12L195.2 -12.9L196.7 -12.9L198 -12.2L198.9 -10.7L198.9 -1.2L196.9 -1.1L196.4 -0.9L196.1 -0.6L195.9 -0.1L196.1 0.6L196.4 0.9L196.9 1.1L204.1 1.1L204.6 0.9L204.9 0.6L205.1 -0.1L204.9 -0.6L204.6 -0.9L204.1 -1.1L202.1 -1.2L202.1 -11.1L201.1 -13.4L200.6 -13.9L197.2 -15.1L194.5 -15.1L191.9 -14.2L191.2 -13.8L190.9 -14.6L190.2 -15.1L185.9 -15.1L185.4 -14.9ZM172.8 -15.1L169.7 -14.1L169.2 -13.8L167.2 -11.8L166.9 -11.3L165.9 -8.5L165.9 -5.9L166.9 -2.7L167.2 -2.2L169.2 -0.2L169.7 0.1L172.5 1.1L175.2 1.1L178.3 0.1L178.8 -0.2L180.8 -2.2L181.1 -2.7L182.1 -5.5L182.1 -8.1L181.1 -11.3L180.8 -11.8L178.8 -13.8L178.3 -14.1L175.5 -15.1ZM173.3 -12.9L174.7 -12.9L176.2 -12.1L178 -10.4L178.9 -7.8L178.9 -6.2L178 -3.6L176.2 -1.9L174.7 -1.1L173.3 -1.1L171.8 -1.9L170 -3.6L169.1 -6.2L169.1 -7.8L170 -10.4L171.8 -12.1ZM154.6 -15.1L153.9 -14.4L153.9 -13.9L154.1 -13.4L154.4 -13.1L154.9 -12.9L156.9 -12.8L156.9 -1.2L154.9 -1.1L154.4 -0.9L153.9 -0.4L153.9 0.4L154.4 0.9L154.9 1.1L162.4 1.1L163.1 0.4L163.1 -0.1L162.9 -0.6L162.6 -0.9L162.1 -1.1L160.1 -1.2L160.1 -14.4L159.6 -14.9L159.2 -15.1ZM121.2 -12.8L120.9 -12.1L120.9 -10.9L121.1 -10.4L121.4 -10.1L121.9 -9.9L123.1 -9.9L123.6 -10.1L123.9 -10.4L124.1 -10.9L124.1 -12.2L125.3 -12.9L128.8 -12.9L130.2 -12.1L130.9 -11.5L130.9 -10.5L130.4 -10.1L124.5 -9.1L121.7 -8.1L121.1 -7.6L119.9 -5.4L119.9 -2.9L120.9 -0.6L121.4 -0.1L124.8 1.1L128.1 1.1L130.4 0.1L131.7 -1.1L132.4 -0.1L134.8 1.1L136.1 1.1L136.6 0.9L136.9 0.6L137.1 0.1L136.9 -0.6L136.4 -1.1L135.5 -1.1L134.9 -1.8L134.1 -3.2L134.1 -10.1L133 -12.6L131.8 -13.8L129.1 -15.1L124.9 -15.1L122.6 -14.1ZM130.9 -7.8L130.9 -3.5L129.2 -1.9L127.8 -1.1L125.3 -1.1L123.8 -2L123.1 -3.2L123.1 -4.7L124 -6.2L125.4 -6.9ZM106.8 -15.1L104.2 -13.8L103.2 -12.8L102 -10.6L101.9 -10.1L101.9 -7.9L102.6 -6.2L101.9 -5.4L100.9 -3.4L100.9 -1.8L101.7 -0.1L100.9 0.6L100 2.4L99.9 4.1L100.9 6.4L101.7 7.1L104.9 8.1L111.5 8.1L114.6 6.9L115.1 6.4L116 4.6L116.1 2.8L114.9 0.4L114.3 -0.1L111.5 -1.1L106.2 -1.1L103.6 -2L103.1 -2.5L103.1 -2.7L104 -4.4L104.6 -3.9L106.9 -2.9L109.4 -2.9L111.8 -4.2L113.1 -5.6L114.1 -7.9L114.1 -10.1L113.4 -11.8L113.5 -11.9L115.1 -11.9L115.6 -12.1L115.9 -12.4L116.1 -12.9L116.1 -14.1L115.9 -14.6L115.6 -14.9L114.9 -15.1L112.4 -14L112 -13.6L111.6 -14L109.4 -15.1ZM102.1 3.3L102.8 1.9L104.1 1.6L105.9 2.1L110.8 2.1L113.4 3L113.9 3.5L113.9 3.8L113.2 5.1L110.8 5.9L105.2 5.9L102.8 5.1L102.1 3.8ZM107.3 -12.9L108.8 -12.9L110 -12.2L110.9 -10.7L110.9 -7.2L110.2 -6L108.8 -5.1L107.3 -5.1L106 -5.8L105.1 -7.2L105.2 -10.9L106 -12.2ZM82.2 -12.8L81.9 -12.1L81.9 -10.9L82.1 -10.4L82.4 -10.1L82.9 -9.9L84.1 -9.9L84.6 -10.1L84.9 -10.4L85.1 -10.9L85.1 -12.2L86.3 -12.9L89.8 -12.9L91.2 -12.1L91.9 -11.5L91.9 -10.5L91.4 -10.1L85.5 -9.1L82.7 -8.1L82.1 -7.6L80.9 -5.4L80.9 -2.9L81.9 -0.6L82.4 -0.1L85.8 1.1L89.1 1.1L91.4 0.1L92.7 -1.1L93.4 -0.1L95.8 1.1L97.1 1.1L97.6 0.9L97.9 0.6L98.1 0.1L97.9 -0.6L97.4 -1.1L96.5 -1.1L95.9 -1.8L95.1 -3.2L95.1 -10.1L94 -12.6L92.8 -13.8L90.1 -15.1L85.9 -15.1L83.6 -14.1ZM91.9 -7.8L91.9 -3.5L90.2 -1.9L88.8 -1.1L86.3 -1.1L84.8 -2L84.1 -3.2L84.1 -4.7L85 -6.2L86.4 -6.9ZM59.6 -15.1L58.9 -14.4L58.9 -13.9L59.1 -13.4L59.4 -13.1L59.9 -12.9L61.9 -12.8L61.9 5.8L59.9 5.9L59.4 6.1L58.9 6.6L58.9 7.4L59.4 7.9L59.9 8.1L67.4 8.1L68.1 7.4L68.1 6.9L67.9 6.4L67.6 6.1L67.1 5.9L65.1 5.8L65.1 -0.1L65.2 -0.2L67.9 1.1L70.2 1.1L73.1 0.2L73.8 -0.2L75.9 -2.4L77.1 -5.5L77.1 -8.1L76.2 -11.1L75.8 -11.8L73.8 -13.8L73.3 -14.1L70.5 -15.1L67.9 -15.1L65.2 -13.8L64.9 -14.6L64.2 -15.1ZM68.3 -12.9L69.7 -12.9L71.2 -12.1L73 -10.4L73.9 -7.8L73.9 -6.2L73 -3.6L71.2 -1.9L69.7 -1.1L68.3 -1.1L66.8 -1.9L65.1 -3.5L65.1 -10.5L66.8 -12.1ZM46.8 -15.1L43.7 -14.1L43.2 -13.8L41.2 -11.8L40.9 -11.3L39.9 -8.5L39.9 -5.9L40.9 -2.7L41.2 -2.2L43.2 -0.2L43.7 0.1L46.5 1.1L49.2 1.1L52.3 0.1L52.8 -0.2L54.8 -2.2L55.1 -2.7L56.1 -5.5L56.1 -8.1L55.1 -11.3L54.8 -11.8L52.8 -13.8L52.3 -14.1L49.5 -15.1ZM47.3 -12.9L48.7 -12.9L50.2 -12.1L52 -10.4L52.9 -7.8L52.9 -6.2L52 -3.6L50.2 -1.9L48.7 -1.1L47.3 -1.1L45.8 -1.9L44 -3.6L43.1 -6.2L43.1 -7.8L44 -10.4L45.8 -12.1ZM22.6 -15.1L21.9 -14.4L21.9 -13.9L22.1 -13.4L22.4 -13.1L22.9 -12.9L24.9 -12.8L24.9 -1.2L22.9 -1.1L22.4 -0.9L21.9 -0.4L21.9 0.4L22.4 0.9L22.9 1.1L30.4 1.1L31.1 0.4L31.1 -0.1L30.9 -0.6L30.6 -0.9L30.1 -1.1L28.1 -1.2L28.1 -7.8L28.9 -10.2L30.8 -12.1L32.3 -12.9L33.1 -12.9L32.9 -11.9L33.2 -11.2L34.4 -10.1L34.9 -9.9L35.4 -9.9L35.8 -10.2L37.1 -11.6L37.1 -13.4L36.8 -13.8L35.4 -15.1L31.9 -15.1L29.6 -14.1L28.2 -12.8L28.1 -14.4L27.4 -15.1ZM1.6 -15.1L0.9 -14.4L0.9 -13.9L1.1 -13.4L1.4 -13.1L1.9 -12.9L3.9 -12.8L3.9 5.8L1.9 5.9L1.4 6.1L0.9 6.6L0.9 7.4L1.4 7.9L1.9 8.1L9.4 8.1L10.1 7.4L10.1 6.9L9.9 6.4L9.6 6.1L9.1 5.9L7.1 5.8L7.1 -0.1L7.2 -0.2L9.9 1.1L12.2 1.1L15.1 0.2L15.8 -0.2L17.9 -2.4L19.1 -5.5L19.1 -8.1L18.2 -11.1L17.8 -11.8L15.8 -13.8L15.3 -14.1L12.5 -15.1L9.9 -15.1L7.2 -13.8L6.9 -14.6L6.2 -15.1ZM10.3 -12.9L11.7 -12.9L13.2 -12.1L15 -10.4L15.9 -7.8L15.9 -6.2L15 -3.6L13.2 -1.9L11.7 -1.1L10.3 -1.1L8.8 -1.9L7.1 -3.5L7.1 -10.5L8.8 -12.1ZM269.4 -21.9L269.1 -21.6L268.9 -21.1L268.9 -20.6L269.4 -20.1L269.9 -19.9L271.9 -19.8L271.9 -1.2L269.9 -1.1L269.4 -0.9L269.1 -0.6L268.9 -0.1L269.1 0.6L269.4 0.9L269.9 1.1L280.2 1.1L283.6 -0.1L286.1 -2.6L287.1 -4.7L288.1 -7.9L288.1 -13.5L287.2 -16.1L286.1 -18.4L283.6 -20.9L280.5 -22.1L269.9 -22.1ZM275.2 -19.9L279.7 -19.9L281.2 -19.1L283.1 -17.2L283.9 -15.6L284.9 -12.8L284.9 -8.2L283.9 -5.4L283.1 -3.8L281.2 -1.9L279.7 -1.1L275.1 -1.2ZM248.4 -21.9L248.1 -21.6L247.9 -21.1L247.9 -20.6L248.4 -20.1L248.9 -19.9L250.9 -19.8L250.9 -1.2L248.9 -1.1L248.4 -0.9L248.1 -0.6L247.9 -0.1L248.1 0.6L248.4 0.9L248.9 1.1L265.1 1.1L265.6 0.9L265.9 0.6L266.1 0.1L266.1 -6.1L265.9 -6.6L265.6 -6.9L265.1 -7.1L264.4 -6.9L263.9 -6.4L263 -1.1L254.1 -1.2L254.2 -9.9L257.8 -9.9L257.9 -6.9L258.1 -6.4L258.6 -5.9L259.1 -5.9L259.6 -6.1L259.9 -6.4L260.1 -6.9L260.1 -15.4L259.6 -15.9L259.1 -16.1L258.6 -16.1L258.1 -15.6L257.9 -15.1L257.8 -12.1L254.2 -12.1L254.1 -19.8L263 -19.9L263.9 -14.6L264.4 -14.1L265.1 -13.9L265.6 -14.1L265.9 -14.4L266.1 -14.9L266.1 -21.1L265.9 -21.6L265.6 -21.9L265.1 -22.1L248.9 -22.1ZM223.4 -21.9L223.1 -21.6L222.9 -21.1L222.9 -20.6L223.4 -20.1L223.9 -19.9L225.9 -19.8L225.9 -1.2L223.9 -1.1L223.4 -0.9L223.1 -0.6L222.9 -0.1L223.1 0.6L223.4 0.9L223.9 1.1L230.1 1.1L230.6 0.9L231.1 0.4L231.1 -0.4L230.6 -0.9L230.1 -1.1L228.1 -1.2L228.2 -13.8L232.9 0.3L233.6 1.1L234.2 1.1L234.6 0.9L235.1 0.3L239.8 -13.8L239.9 -1.2L237.9 -1.1L237.4 -0.9L236.9 -0.4L236.9 0.4L237.4 0.9L237.9 1.1L245.1 1.1L245.6 0.9L245.9 0.6L246.1 0.1L246.1 -0.4L245.6 -0.9L245.1 -1.1L243.1 -1.2L243.1 -19.8L245.1 -19.9L245.6 -20.1L245.9 -20.4L246.1 -20.9L245.9 -21.6L245.6 -21.9L245.1 -22.1L240.8 -22.1L240 -21.6L234.5 -5.2L228.9 -21.6L228.2 -22.1L223.9 -22.1ZM157.8 -22.1L157.2 -21.8L156.2 -20.8L155.9 -19.9L156.2 -19.2L157.2 -18.2L158.1 -17.9L158.8 -18.2L159.8 -19.2L160.1 -20.1L159.8 -20.8L158.8 -21.8L158.2 -22.1ZM142.9 -22.1L142.4 -21.9L142.1 -21.6L141.9 -21.1L141.9 -15.2L139.6 -15.1L139.1 -14.6L138.9 -13.9L139.1 -13.4L139.6 -12.9L141.9 -12.8L141.9 -3.9L143.1 -0.4L143.6 0.1L145.8 1.1L148.1 1.1L150.4 0.1L150.9 -0.4L152 -2.4L152.1 -3.1L151.9 -3.6L151.6 -3.9L150.9 -4.1L150.4 -3.9L150.1 -3.6L149 -1.8L147.8 -1.1L146.5 -1.1L145.9 -1.8L145.1 -4.2L145.1 -12.8L148.4 -12.9L148.9 -13.4L149.1 -14.1L148.9 -14.6L148.4 -15.1L145.1 -15.2L145.1 -21.4L144.4 -22.1L143.4 -22Z"/>
</svg></body></html>
